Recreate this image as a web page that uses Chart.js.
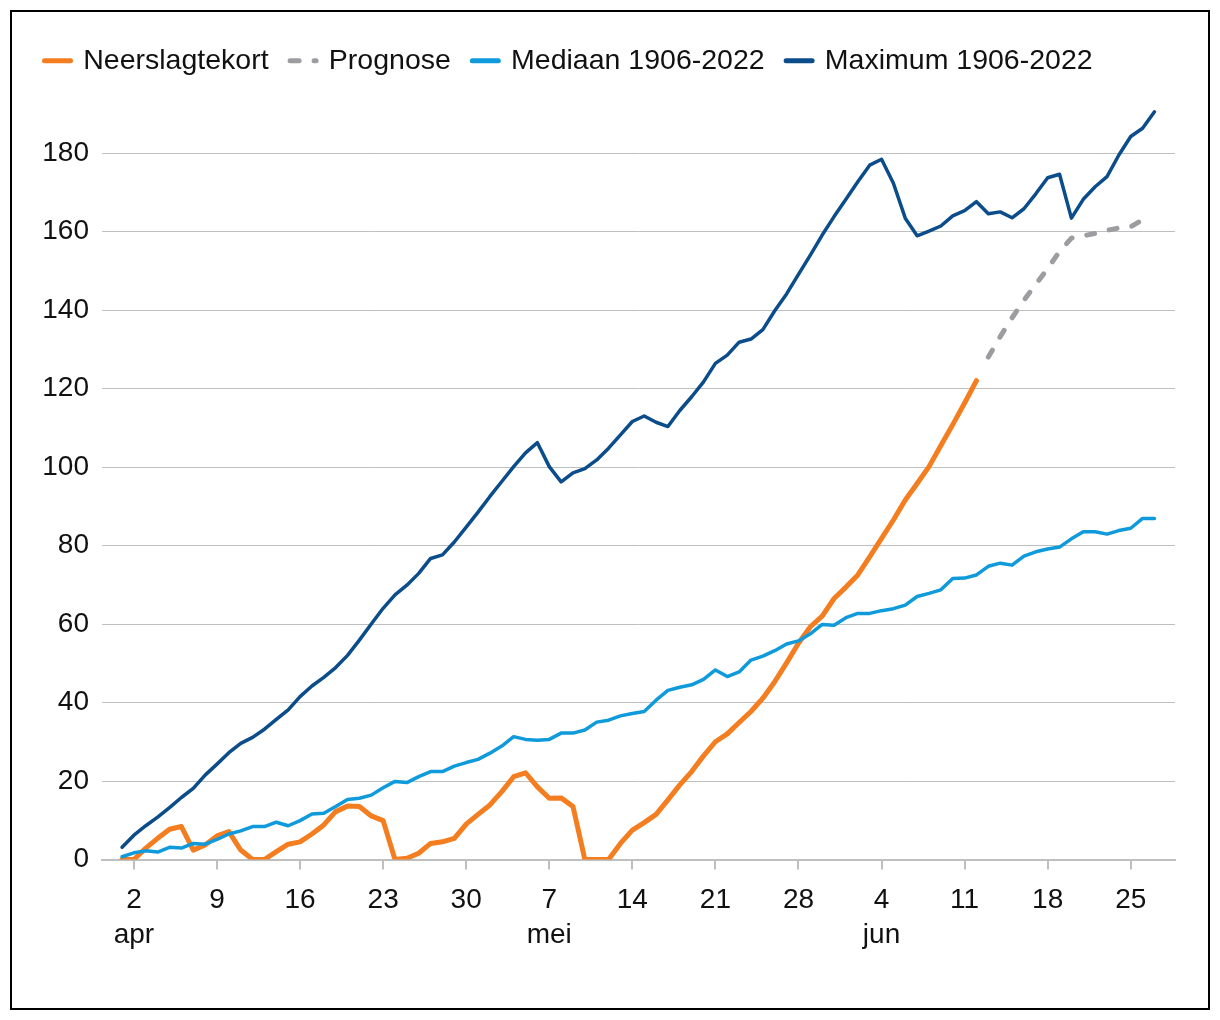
<!DOCTYPE html>
<html><head><meta charset="utf-8">
<script src="https://cdn.jsdelivr.net/npm/chart.js@4.4.0/dist/chart.umd.min.js"></script>
<style>
html,body{margin:0;padding:0;background:#fff;}
#frame{position:absolute;left:10px;top:10px;width:1200px;height:1000px;border:2px solid #000;box-sizing:border-box;background:#fff;}
canvas{display:block;}
</style></head><body>
<div id="frame"><canvas id="c" width="1196" height="996"></canvas></div>
<script>
// Categories: days from 1 April to 27 June
const monthSpans = [['apr', 30], ['mei', 31], ['jun', 27]];
const days = [];
monthSpans.forEach(([m, n]) => { for (let d = 1; d <= n; d++) days.push(d + ' ' + m); });

const seriesNames = ['Neerslagtekort', 'Prognose', 'Mediaan 1906-2022', 'Maximum 1906-2022'];

// Neerslagtekort (mm), 1 apr .. 12 jun
const neerslagtekort = [
  0, 0, 2.9, 5.4, 7.7, 8.4, 2.4, 3.7, 6.0, 7.1,
  2.4, 0, 0, 2.0, 3.9, 4.5, 6.5, 8.8, 12.2, 13.6,
  13.5, 11.1, 9.9, 0, 0.3, 1.6, 4.1, 4.5, 5.4, 9.0,
  11.5, 13.9, 17.3, 21.1, 22.1, 18.5, 15.6, 15.7, 13.5, 0,
  0, 0, 4.1, 7.5, 9.4, 11.5, 15.2, 19.0, 22.4, 26.4,
  30.0, 32.0, 34.9, 37.7, 41.1, 45.3, 50.1, 55.1, 59.3, 62.0,
  66.5, 69.4, 72.5, 77.1, 81.8, 86.5, 91.6, 95.8, 100.1, 105.5,
  110.8, 116.3, 122.0
];

// Prognose, 13 jun .. 26 jun
const prognoseStart = '13 jun';
const prognose = [128, 133.2, 138, 142.5, 146.5, 150.6, 154.9, 158.3, 158.9, 159.5, 160.3, 160.9, 161.2, 163];

// Mediaan 1906-2022, 1 apr .. 27 jun
const mediaan = [
  0.7, 1.7, 2.2, 1.9, 3.1, 2.9, 4.1, 3.9, 5.1, 6.5,
  7.3, 8.4, 8.4, 9.5, 8.6, 9.9, 11.6, 11.8, 13.5, 15.3,
  15.6, 16.4, 18.3, 19.9, 19.6, 21.1, 22.4, 22.4, 23.8, 24.7,
  25.5, 27.1, 28.9, 31.3, 30.6, 30.4, 30.6, 32.2, 32.2, 33.0,
  35.0, 35.5, 36.6, 37.2, 37.7, 40.6, 43.1, 43.9, 44.5, 45.9,
  48.3, 46.6, 47.8, 50.8, 51.8, 53.2, 54.9, 55.7, 57.5, 59.9,
  59.7, 61.6, 62.7, 62.7, 63.4, 63.9, 64.8, 67.0, 67.8, 68.7,
  71.6, 71.7, 72.5, 74.7, 75.5, 75.0, 77.3, 78.4, 79.1, 79.6,
  81.7, 83.5, 83.5, 82.9, 83.8, 84.4, 86.9, 86.9
];

// Maximum 1906-2022, 1 apr .. 27 jun
const maximum = [
  3.1, 6.2, 8.6, 10.8, 13.2, 15.8, 18.1, 21.5, 24.3, 27.2,
  29.6, 31.1, 33.2, 35.7, 38.1, 41.5, 44.2, 46.4, 48.9, 52.0,
  55.9, 60.0, 64.0, 67.4, 69.9, 72.9, 76.7, 77.6, 80.9, 84.7,
  88.5, 92.5, 96.3, 100.1, 103.6, 106.2, 100.1, 96.2, 98.5, 99.6,
  101.8, 104.8, 108.2, 111.6, 113.0, 111.4, 110.3, 114.4, 117.9, 121.7,
  126.4, 128.5, 131.8, 132.6, 135.0, 139.8, 144.1, 149.1, 154.0, 159.1,
  163.8, 168.2, 172.7, 176.9, 178.4, 172.3, 163.4, 158.9, 160.1, 161.4,
  164.0, 165.3, 167.6, 164.5, 165.0, 163.5, 165.8, 169.6, 173.7, 174.6,
  163.4, 168.2, 171.4, 174.0, 179.5, 184.2, 186.3, 190.5
];

// X axis tick labels
const tickDays = ['2 apr', '9 apr', '16 apr', '23 apr', '30 apr', '7 mei', '14 mei', '21 mei', '28 mei', '4 jun', '11 jun', '18 jun', '25 jun'];
const tickLabels = [['2', 'apr'], ['9'], ['16'], ['23'], ['30'], ['7', 'mei'], ['14'], ['21'], ['28'], ['4', 'jun'], ['11'], ['18'], ['25']];

// Y axis tick values
const yTicks = [0, 20, 40, 60, 80, 100, 120, 140, 160, 180];

function toPoints(values, startDay) {
  const s = days.indexOf(startDay);
  return values.map((v, k) => ({ x: s + k, y: v }));
}

const FONT = "'Liberation Sans', Arial, sans-serif";
const TXT = '#111111';

const legendLines = {
  id: 'legendLines',
  afterDraw(chart) {
    const lg = chart.legend;
    if (!lg || !lg.legendHitBoxes) return;
    const ctx = chart.ctx;
    lg.legendHitBoxes.forEach((hb, i) => {
      const item = lg.legendItems[i];
      const ds = chart.data.datasets[item.datasetIndex];
      ctx.save();
      ctx.strokeStyle = ds.borderColor;
      ctx.lineWidth = 5;
      ctx.lineCap = 'round';
      ctx.setLineDash(ds.borderDash ? [9, 15] : []);
      const y = hb.top + hb.height / 2 - 0.5;
      ctx.beginPath();
      ctx.moveTo(hb.left + 2.5, y);
      ctx.lineTo(hb.left + 28.5, y);
      ctx.stroke();
      ctx.restore();
    });
  }
};

new Chart(document.getElementById('c'), {
  type: 'line',
  data: {
    datasets: [
      { label: seriesNames[0], data: toPoints(neerslagtekort, '1 apr'), borderColor: '#F47D20', borderWidth: 5, order: 4 },
      { label: seriesNames[1], data: toPoints(prognose, prognoseStart), borderColor: '#9D9DA1', borderWidth: 5, borderDash: [8, 15], order: 3 },
      { label: seriesNames[2], data: toPoints(mediaan, '1 apr'), borderColor: '#0F9ADB', borderWidth: 3.5, order: 2 },
      { label: seriesNames[3], data: toPoints(maximum, '1 apr'), borderColor: '#0B4C8A', borderWidth: 3.5, order: 1 }
    ]
  },
  options: {
    responsive: false,
    animation: false,
    events: [],
    elements: {
      point: { radius: 0 },
      line: { tension: 0, fill: false, borderCapStyle: 'round', borderJoinStyle: 'round' }
    },
    layout: { padding: { left: 11, top: 16, right: 33, bottom: 0 } },
    plugins: {
      tooltip: { enabled: false },
      legend: {
        position: 'top',
        align: 'start',
        labels: {
          boxWidth: 27,
          boxHeight: 28.5,
          padding: 19,
          color: TXT,
          font: { family: FONT, size: 28.5 },
          generateLabels(chart) {
            return chart.data.datasets.map((ds, i) => ({
              text: ds.label, fillStyle: 'rgba(0,0,0,0)', strokeStyle: 'rgba(0,0,0,0)',
              lineWidth: 0, datasetIndex: i, fontColor: TXT, hidden: false
            }));
          }
        }
      }
    },
    scales: {
      x: {
        type: 'linear',
        min: -1.69,
        max: 88.73,
        border: { display: true, color: '#BFBFBF', width: 2 },
        grid: { display: true, drawOnChartArea: false, drawTicks: true, tickLength: 10, color: '#BFBFBF', lineWidth: 2 },
        ticks: {
          color: TXT, padding: 13, maxRotation: 0, autoSkip: false,
          font: { family: FONT, size: 28, lineHeight: 1.25 },
          callback: (v, idx) => tickLabels[idx]
        },
        afterBuildTicks: (s) => { s.ticks = tickDays.map(d => ({ value: days.indexOf(d) })); },
        afterFit: (s) => { s.height = 148.5; }
      },
      y: {
        min: 0,
        max: 197.2,
        border: { display: false },
        grid: { color: '#BFBFBF', lineWidth: 1, drawTicks: false },
        ticks: { color: TXT, padding: 13, font: { family: FONT, size: 28 } },
        afterBuildTicks: (s) => { s.ticks = yTicks.map(v => ({ value: v })); },
        afterFit: (s) => { s.width = 79; }
      }
    }
  },
  plugins: [legendLines]
});
</script>
</body></html>
